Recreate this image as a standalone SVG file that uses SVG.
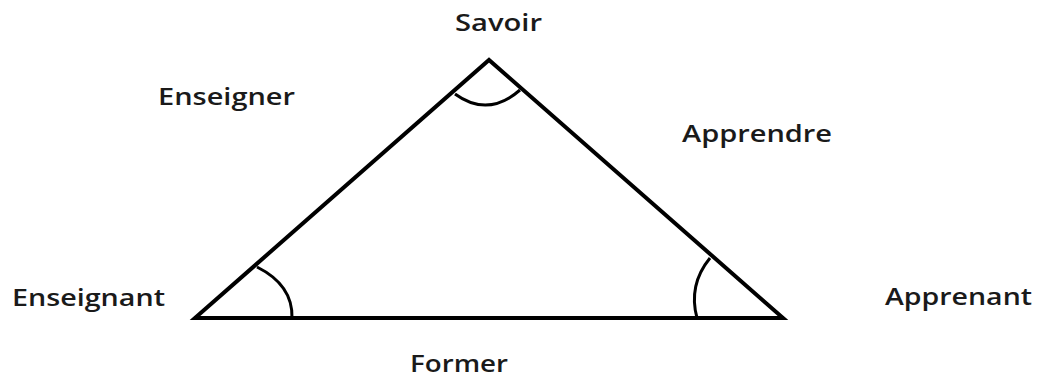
<svg xmlns="http://www.w3.org/2000/svg" width="1038" height="378" viewBox="0 0 1038 378">
<style>
.lbl{font-family:"Open Sans","Liberation Sans",sans-serif;font-size:24px;font-weight:600;fill:#1a1a1a}
.edge{fill:none;stroke:#000;stroke-width:4;stroke-linejoin:miter}
.arc{fill:none;stroke:#000;stroke-width:3}
</style>
<rect width="1038" height="378" fill="#fff"/>
<g id="connectors">
<path class="edge" d="M195,318 L489,60 L783,318 Z"/>
<path class="arc" d="M455,94 Q488,118 520,90"/>
<path class="arc" d="M257,267 Q293,285 292,318"/>
<path class="arc" d="M710,258 Q688,285 697,318"/>
</g>
<g id="savoir"><text class="lbl" x="455" y="31" textLength="87" lengthAdjust="spacingAndGlyphs">Savoir</text></g>
<g id="enseignant"><text class="lbl" x="12" y="306" textLength="153" lengthAdjust="spacingAndGlyphs">Enseignant</text></g>
<g id="apprenant"><text class="lbl" x="885" y="305" textLength="147" lengthAdjust="spacingAndGlyphs">Apprenant</text></g>
<g id="enseigner"><text class="lbl" x="158" y="105" textLength="137" lengthAdjust="spacingAndGlyphs">Enseigner</text></g>
<g id="apprendre"><text class="lbl" x="682" y="142" textLength="150" lengthAdjust="spacingAndGlyphs">Apprendre</text></g>
<g id="former"><text class="lbl" x="410" y="372" textLength="98" lengthAdjust="spacingAndGlyphs">Former</text></g>
</svg>
